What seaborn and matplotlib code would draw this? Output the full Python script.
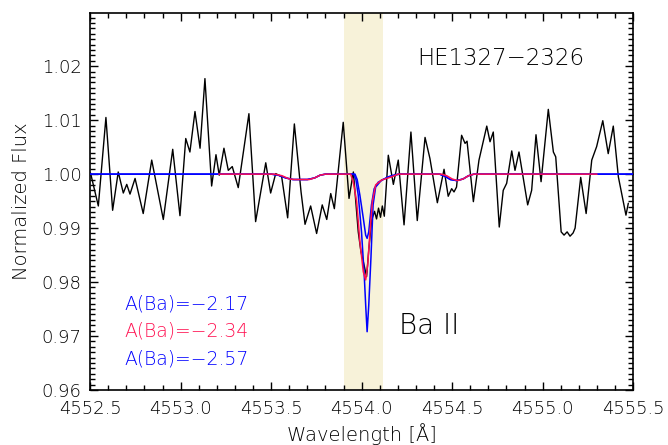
import numpy as np
import pandas as pd
import matplotlib
matplotlib.use("Agg")
import matplotlib.pyplot as plt
from matplotlib.ticker import MultipleLocator
import seaborn as sns

obs_wave = [4552.502, 4552.545, 4552.587, 4552.624, 4552.655, 4552.683, 4552.702, 4552.720,
            4552.748, 4552.793, 4552.840, 4552.904, 4552.956, 4552.996, 4553.028, 4553.051,
            4553.079, 4553.107, 4553.134, 4553.171, 4553.195, 4553.213, 4553.239, 4553.263,
            4553.285, 4553.318, 4553.377, 4553.414, 4553.470, 4553.497, 4553.525, 4553.558,
            4553.591, 4553.628, 4553.665, 4553.687, 4553.718, 4553.751, 4553.782, 4553.807,
            4553.829, 4553.849, 4553.898, 4553.930, 4553.954, 4553.981, 4553.996, 4554.009,
            4554.027, 4554.040, 4554.055, 4554.071, 4554.082, 4554.093, 4554.104, 4554.114,
            4554.125, 4554.147, 4554.175, 4554.202, 4554.234, 4554.272, 4554.307, 4554.350,
            4554.377, 4554.418, 4554.455, 4554.478, 4554.497, 4554.510, 4554.524, 4554.552,
            4554.571, 4554.582, 4554.617, 4554.648, 4554.691, 4554.709, 4554.727, 4554.760,
            4554.782, 4554.801, 4554.829, 4554.847, 4554.869, 4554.917, 4554.939, 4554.963,
            4554.991, 4555.031, 4555.059, 4555.072, 4555.102, 4555.118, 4555.135, 4555.151,
            4555.168, 4555.179, 4555.210, 4555.240, 4555.271, 4555.298, 4555.332, 4555.362,
            4555.390, 4555.418, 4555.460, 4555.473]
obs_flux = [1.0002, 0.9941, 1.0105, 0.9933, 1.0004, 0.9965, 0.9981, 0.9963,
            0.9992, 0.9927, 1.0026, 0.9916, 1.0046, 0.9923, 1.0066, 1.0041,
            1.0116, 1.0048, 1.0177, 0.9978, 1.0036, 0.9998, 1.0048, 1.0007,
            1.0014, 0.9975, 1.0112, 0.9912, 1.0021, 0.9965, 1.0001, 0.9995,
            0.9919, 1.0093, 0.9967, 0.9907, 0.9941, 0.9890, 0.9943, 0.9916,
            0.9964, 0.9936, 1.0096, 0.9955, 1.0004, 0.9893, 0.9856, 0.9838,
            0.9810, 0.9863, 0.9915, 0.9931, 0.9917, 0.9937, 0.9920, 0.9941,
            0.9922, 1.0035, 0.9981, 1.0026, 0.9906, 1.0078, 0.9914, 1.0068,
            1.0029, 0.9947, 1.0009, 0.9959, 0.9973, 0.9967, 0.9976, 1.0072,
            1.0057, 1.0061, 0.9949, 1.0026, 1.0089, 1.0060, 1.0078, 0.9902,
            0.9970, 0.9983, 1.0043, 1.0007, 1.0041, 0.9943, 0.9970, 1.0073,
            0.9986, 1.0120, 1.0041, 1.0032, 0.9893, 0.9887, 0.9893, 0.9885,
            0.9891, 0.9900, 0.9994, 0.9927, 1.0026, 1.0051, 1.0099, 1.0038,
            1.0089, 0.9995, 0.9924, 0.9946]

# ---- synthetic spectra ----
syn_red_wave = [4553.21, 4553.52, 4553.56, 4553.60, 4553.63, 4553.67, 4553.71, 4553.74, 4553.77,
                4553.80, 4553.939, 4553.954, 4553.972, 4553.990, 4554.009, 4554.022, 4554.033,
                4554.046, 4554.059, 4554.077, 4554.110, 4554.166, 4554.202, 4554.44, 4554.47,
                4554.50, 4554.53, 4554.56, 4554.59, 4554.62, 4555.30]
syn_red_flux = [1.0000, 1.0000, 0.9997, 0.9991, 0.9990, 0.9990, 0.9990, 0.9993, 0.9998,
                1.0000, 1.0000, 0.9985, 0.9949, 0.9875, 0.9819, 0.9804, 0.9831,
                0.9893, 0.9949, 0.9980, 0.9989, 0.9995, 1.0000, 1.0000, 0.9997,
                0.9991, 0.9988, 0.9991, 0.9997, 1.0000, 1.0000]

syn_hi_wave = [4552.50, 4553.50, 4553.54, 4553.58, 4553.62, 4553.66, 4553.70, 4553.74, 4553.77,
               4553.80, 4553.956, 4553.968, 4553.981, 4553.999, 4554.014, 4554.023, 4554.030,
               4554.039, 4554.051, 4554.063, 4554.077, 4554.110, 4554.166, 4554.212, 4554.43,
               4554.46, 4554.49, 4554.525, 4554.56, 4554.59, 4554.62, 4555.50]
syn_hi_flux = [1.0000, 1.0000, 0.9998, 0.9993, 0.9990, 0.9990, 0.9990, 0.9993, 0.9998,
               1.0000, 1.0000, 0.9990, 0.9961, 0.9893, 0.9813, 0.9751, 0.9708,
               0.9757, 0.9844, 0.9943, 0.9976, 0.9989, 0.9997, 1.0000, 1.0000,
               0.9996, 0.9990, 0.9988, 0.9991, 0.9997, 1.0000, 1.0000]

syn_lo_wave = [4552.50, 4553.50, 4553.54, 4553.58, 4553.62, 4553.66, 4553.70, 4553.74, 4553.77,
               4553.80, 4553.963, 4553.975, 4553.990, 4554.009, 4554.022, 4554.030, 4554.039,
               4554.054, 4554.069, 4554.091, 4554.146, 4554.200, 4554.43, 4554.46, 4554.49,
               4554.525, 4554.56, 4554.59, 4554.62, 4555.50]
syn_lo_flux = [1.0000, 1.0000, 0.9998, 0.9993, 0.9990, 0.9990, 0.9990, 0.9993, 0.9998,
               1.0000, 1.0000, 0.9990, 0.9961, 0.9918, 0.9887, 0.9881, 0.9893,
               0.9943, 0.9973, 0.9985, 0.9995, 1.0000, 1.0000, 0.9996, 0.9990,
               0.9988, 0.9991, 0.9997, 1.0000, 1.0000]

band = (4553.90, 4554.12)
labels = ["A(Ba)=\u22122.17", "A(Ba)=\u22122.34", "A(Ba)=\u22122.57"]
label_colors = ["#0000ff", "#ff1050", "#0000ff"]
star = "HE1327\u22122326"
line_name = "Ba II"

sns.set_style("ticks")
plt.rcParams["font.family"] = ["DejaVu Sans"]
plt.rcParams["font.weight"] = "light"
plt.rcParams["axes.labelweight"] = "light"

fig = plt.figure(figsize=(6.68, 4.45), dpi=100)
ax = fig.add_axes([0.135, 0.1236, 0.8129, 0.8465])

ax.axvspan(band[0], band[1], color="#f7f2d9", zorder=0, lw=0)

df_obs = pd.DataFrame({"w": obs_wave, "f": obs_flux})
df_hi = pd.DataFrame({"w": syn_hi_wave, "f": syn_hi_flux})
df_lo = pd.DataFrame({"w": syn_lo_wave, "f": syn_lo_flux})
df_red = pd.DataFrame({"w": syn_red_wave, "f": syn_red_flux})

sns.lineplot(data=df_obs, x="w", y="f", ax=ax, color="black", lw=1.0, sort=False, estimator=None, zorder=2)
sns.lineplot(data=df_lo, x="w", y="f", ax=ax, color="#0000ff", lw=1.1, sort=False, estimator=None, zorder=3)
sns.lineplot(data=df_hi, x="w", y="f", ax=ax, color="#0000ff", lw=1.1, sort=False, estimator=None, zorder=3)
sns.lineplot(data=df_red, x="w", y="f", ax=ax, color="#ff1050", lw=1.1, sort=False, estimator=None, zorder=4)

ax.set_xlim(4552.5, 4555.5)
ax.set_ylim(0.96, 1.0298)
ax.xaxis.set_major_locator(MultipleLocator(0.5))
ax.xaxis.set_minor_locator(MultipleLocator(0.1))
ax.yaxis.set_major_locator(MultipleLocator(0.01))
ax.yaxis.set_minor_locator(MultipleLocator(0.001))
ax.xaxis.set_major_formatter(matplotlib.ticker.FormatStrFormatter("%.1f"))
ax.yaxis.set_major_formatter(matplotlib.ticker.FormatStrFormatter("%.2f"))
ax.tick_params(which="both", direction="in", top=True, right=True, color="black", width=1.0)
ax.tick_params(which="major", length=6)
ax.tick_params(which="minor", length=3.5)
ax.tick_params(axis="x", which="major", labelsize=13, pad=7, labelcolor="black")
ax.tick_params(axis="y", which="major", labelsize=13, pad=6, labelcolor="black")
for s in ax.spines.values():
    s.set_linewidth(1.2)
    s.set_color("black")

ax.set_xlabel("Wavelength [\u00c5]", fontsize=14, color="black", labelpad=4, fontweight="light")
ax.set_ylabel("Normalized Flux", fontsize=14, color="black", labelpad=8, fontweight="light")

ax.text(0.7565, 0.881, star, transform=ax.transAxes, fontsize=16.5, color="black",
        ha="center", va="center")
ax.text(0.624, 0.170, line_name, transform=ax.transAxes, fontsize=20, color="black",
        ha="center", va="center")
for lab, col, yy in zip(labels, label_colors, [0.2296, 0.1566, 0.081]):
    ax.text(0.064, yy, lab, transform=ax.transAxes, fontsize=13.5, color=col,
            ha="left", va="center")

fig.savefig("out.png", dpi=100)
